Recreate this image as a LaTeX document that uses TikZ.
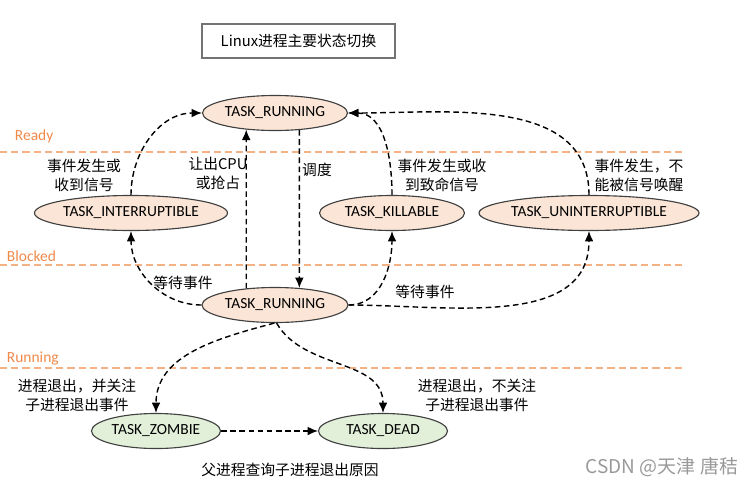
\documentclass[tikz,border=0pt]{standalone}
\usepackage{fontspec}
\setmainfont{Carlito}
\newfontfamily\cjk{Noto Sans CJK SC}
\usetikzlibrary{arrows.meta,shapes.geometric}
\definecolor{peach}{HTML}{FBE5D6}
\definecolor{leaf}{HTML}{E2F0D9}
\definecolor{zone}{HTML}{F4B183}
\definecolor{zonetext}{HTML}{F08A4B}
\begin{document}
\begin{tikzpicture}[x=0.025cm,y=-0.025cm,
  state/.style={ellipse,draw=black!75,line width=0.8pt,inner sep=0pt,minimum height=0.875cm,font=\fontsize{11}{13}\selectfont},
  hot/.style={state,fill=peach},
  cold/.style={state,fill=leaf},
  flow/.style={dashed,dash pattern=on 4pt off 2.5pt,line width=1pt,-{Latex[length=2.6mm,width=2.2mm]}},
  zoneline/.style={zone,dash pattern=on 5pt off 3pt,line width=1pt},
  zonename/.style={anchor=west,text=zonetext,font=\fontsize{11}{13}\selectfont},
  note/.style={align=center,font=\cjk\fontsize{10.5}{13.5}\selectfont}]
  \useasboundingbox (0,0) rectangle (754,487);
  \node[draw=black!55,line width=1pt,minimum width=4.825cm,minimum height=0.85cm,font=\cjk\fontsize{10.5}{13}\selectfont] (title) at (298.5,41) {Linux进程主要状态切换};
  \draw[zoneline] (0,152) -- (684,152);
  \draw[zoneline] (0,265) -- (684,265);
  \draw[zoneline] (0,368) -- (684,368);
  \node[zonename] (ready) at (10,136) {Ready};
  \node[zonename] (blocked) at (2,256) {Blocked};
  \node[zonename] (running) at (2,358) {Running};
  \node[hot,minimum width=3.625cm] (run1) at (275,113) {TASK\_RUNNING};
  \node[hot,minimum width=4.825cm] (inter) at (131,213) {TASK\_INTERRUPTIBLE};
  \node[hot,minimum width=3.625cm] (kill) at (392,213) {TASK\_KILLABLE};
  \node[hot,minimum width=5.375cm] (uninter) at (589,213) {TASK\_UNINTERRUPTIBLE};
  \node[hot,minimum width=3.65cm] (run2) at (275,305) {TASK\_RUNNING};
  \node[cold,minimum width=3.225cm] (zombie) at (156,431) {TASK\_ZOMBIE};
  \node[cold,minimum width=3.225cm] (dead) at (383,431) {TASK\_DEAD};
  \draw[flow] (inter.north) to[out=90,in=180] (run1.west);
  \draw[flow] (run2.150) -- (run1.210);
  \draw[flow] (run1.-35) -- (run2.35);
  \draw[flow] (kill.north) to[out=90,in=0] (run1.east);
  \draw[flow] (uninter.north) to[out=90,in=0] (run1.east);
  \draw[flow] (run2.west) to[out=180,in=-90] (inter.south);
  \draw[flow] (run2.east) to[out=0,in=-90] (kill.south);
  \draw[flow] (run2.east) to[out=0,in=-90] (uninter.south);
  \draw[flow] (run2.-92) to[out=195,in=90] (zombie.north);
  \draw[flow] (run2.-85) to[out=-60,in=90] (dead.north);
  \draw[flow] (zombie.east) -- (dead.west);
  \node[note] (wake) at (84,175) {事件发生或\\收到信号};
  \node[note] (yield) at (218,173) {让出CPU\\或抢占};
  \node[note] (sched) at (317,170) {调度};
  \node[note] (fatal) at (442,175) {事件发生或收\\到致命信号};
  \node[note,align=left] (nosig) at (639,175) {事件发生，不\\能被信号唤醒};
  \node[note] (waitl) at (183,283) {等待事件};
  \node[note] (waitr) at (425,292) {等待事件};
  \node[note] (watch) at (77,395) {进程退出，并关注\\子进程退出事件};
  \node[note] (nowatch) at (477,395) {进程退出，不关注\\子进程退出事件};
  \node[note] (reap) at (290,470) {父进程查询子进程退出原因};
  \node[text=black!40,font=\cjk\fontsize{13.5}{15}\selectfont] (mark) at (662,467) {CSDN @天津 唐秸};
\end{tikzpicture}
\end{document}
